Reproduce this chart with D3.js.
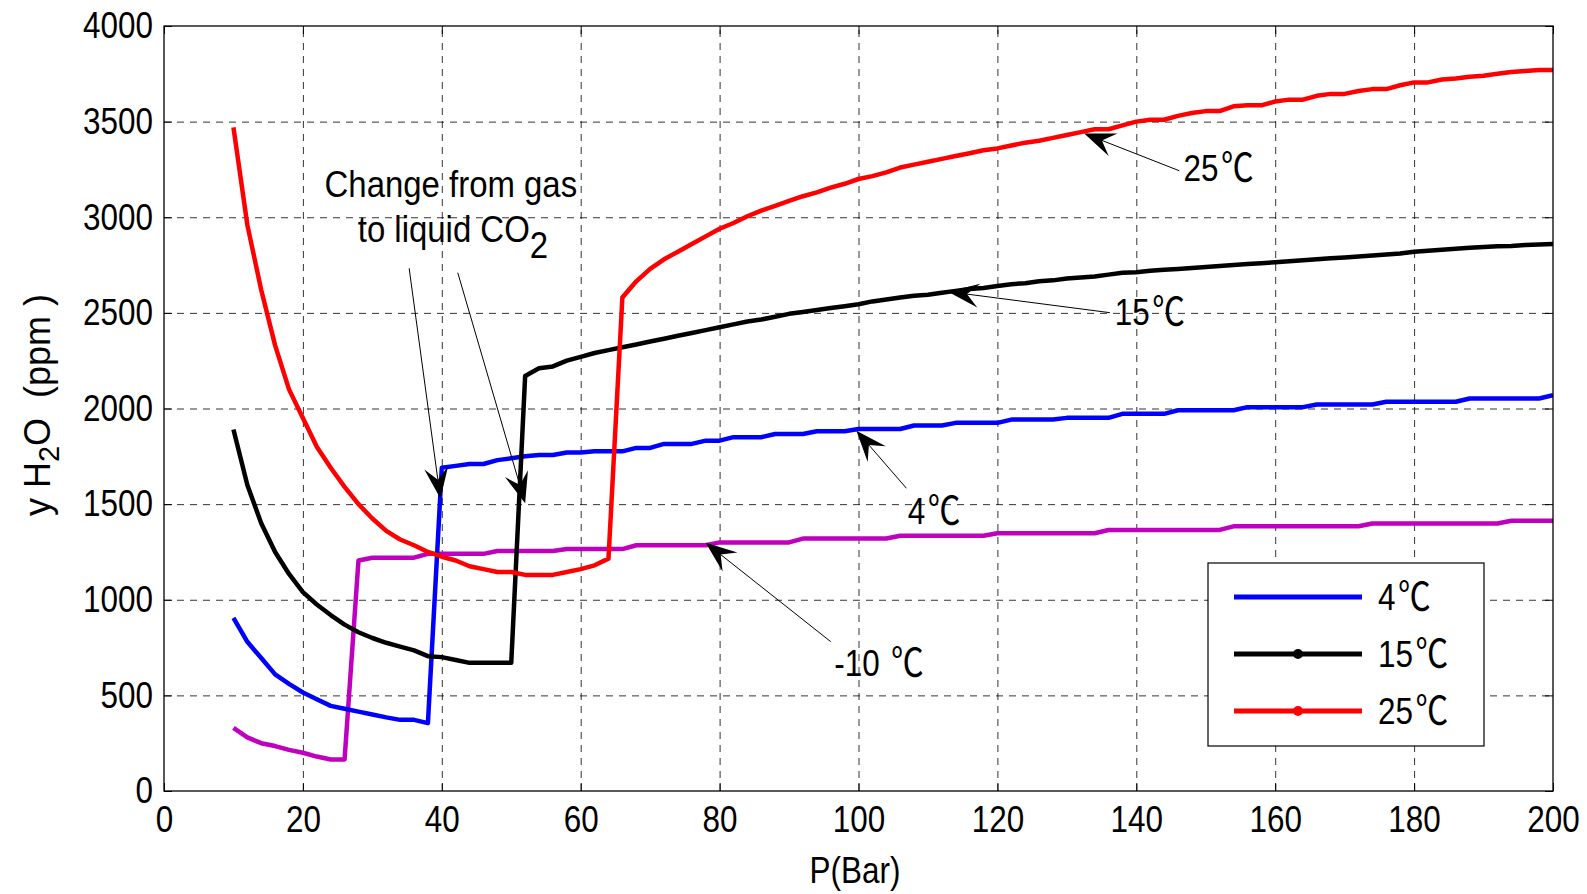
<!DOCTYPE html>
<html lang="en">
<head>
<meta charset="UTF-8" />
<title>y H2O vs P</title>
<style>
  html, body { margin: 0; padding: 0; background: #fff; overflow: hidden; }
  svg text { font-family: 'Liberation Sans', 'Noto Sans CJK SC', sans-serif; fill: #000; white-space: pre; }
  .grid line { stroke: #000; stroke-width: 0.8; stroke-dasharray: 7,6; }
  .grid path { display: none; }
</style>
</head>
<body>
<svg id="chart"></svg>
<script src="https://d3js.org/d3.v7.min.js"></script>
<script>
// pressure (bar) at which every curve was sampled
const pressure = [
  10, 12, 14, 16, 18, 20, 22, 24, 26, 28,
  30, 32, 34, 36, 38, 40, 42, 44, 46, 48,
  50, 52, 54, 56, 58, 60, 62, 64, 66, 68,
  70, 72, 74, 76, 78, 80, 82, 84, 86, 88,
  90, 92, 94, 96, 98, 100, 102, 104, 106, 108,
  110, 112, 114, 116, 118, 120, 122, 124, 126, 128,
  130, 132, 134, 136, 138, 140, 142, 144, 146, 148,
  150, 152, 154, 156, 158, 160, 162, 164, 166, 168,
  170, 172, 174, 176, 178, 180, 182, 184, 186, 188,
  190, 192, 194, 196, 198, 200
];

// y H2O (ppm)
const h2o25 = [
  3470, 2960, 2620, 2330, 2100, 1950, 1800, 1690, 1590, 1500,
  1425, 1360, 1315, 1285, 1250, 1225, 1205, 1175, 1160, 1145,
  1145, 1130, 1130, 1130, 1145, 1160, 1180, 1215, 2580, 2665,
  2730, 2780, 2820, 2860, 2900, 2940, 2970, 3005, 3035, 3060,
  3085, 3110, 3130, 3155, 3175, 3200, 3215, 3235, 3260, 3275,
  3290, 3305, 3320, 3335, 3350, 3360, 3375, 3390, 3400, 3415,
  3430, 3445, 3460, 3460, 3480, 3500, 3510, 3510, 3530, 3545,
  3555, 3555, 3580, 3585, 3585, 3605, 3615, 3615, 3635, 3645,
  3645, 3660, 3670, 3670, 3690, 3705, 3705, 3720, 3725, 3735,
  3740, 3750, 3760, 3765, 3770, 3770
];
const h2o15 = [
  1890, 1600, 1400, 1250, 1135, 1040, 975, 920, 870, 830,
  800, 775, 755, 735, 705, 700, 685, 670, 670, 670,
  670, 2170, 2210, 2220, 2250, 2270, 2290, 2305, 2320, 2335,
  2350, 2365, 2380, 2395, 2410, 2425, 2440, 2455, 2465, 2480,
  2495, 2505, 2515, 2525, 2535, 2545, 2560, 2570, 2580, 2590,
  2595, 2605, 2615, 2625, 2630, 2640, 2650, 2655, 2665, 2670,
  2680, 2685, 2690, 2700, 2710, 2712, 2720, 2725, 2730, 2735,
  2740, 2745, 2750, 2755, 2760, 2765, 2770, 2775, 2780, 2785,
  2790, 2795, 2800, 2805, 2810, 2820, 2825, 2830, 2835, 2840,
  2845, 2848, 2850, 2855, 2858, 2860
];
const h2o4 = [
  905, 780, 695, 610, 560, 515, 480, 445, 430, 415,
  400, 385, 372, 372, 355, 1690, 1700, 1710, 1710, 1730,
  1740, 1750, 1757, 1757, 1770, 1770, 1776, 1776, 1776, 1794,
  1794, 1815, 1815, 1815, 1832, 1832, 1850, 1850, 1850, 1867,
  1867, 1867, 1881, 1881, 1881, 1893, 1893, 1893, 1893, 1911,
  1911, 1911, 1925, 1925, 1925, 1925, 1942, 1942, 1942, 1942,
  1951, 1951, 1951, 1951, 1972, 1972, 1972, 1972, 1991, 1991,
  1991, 1991, 1991, 2007, 2007, 2007, 2007, 2007, 2021, 2021,
  2021, 2021, 2021, 2035, 2035, 2035, 2035, 2035, 2035, 2052,
  2052, 2052, 2052, 2052, 2052, 2069
];
const h2oMinus10 = [
  330, 280, 250, 235, 215, 200, 180, 165, 165, 1205,
  1220, 1220, 1220, 1220, 1240, 1240, 1240, 1240, 1240, 1255,
  1255, 1255, 1255, 1255, 1265, 1265, 1265, 1265, 1265, 1285,
  1285, 1285, 1285, 1285, 1285, 1300, 1300, 1300, 1300, 1300,
  1300, 1320, 1320, 1320, 1320, 1320, 1320, 1320, 1335, 1335,
  1335, 1335, 1335, 1335, 1335, 1348, 1348, 1348, 1348, 1348,
  1348, 1348, 1348, 1365, 1365, 1365, 1365, 1365, 1365, 1365,
  1365, 1365, 1384, 1384, 1384, 1384, 1384, 1384, 1384, 1384,
  1384, 1384, 1399, 1399, 1399, 1399, 1399, 1399, 1399, 1399,
  1399, 1399, 1413, 1413, 1413, 1413
];

const xTicks = [0, 20, 40, 60, 80, 100, 120, 140, 160, 180, 200];
const yTicks = [0, 500, 1000, 1500, 2000, 2500, 3000, 3500, 4000];

// drawn in this order (last on top)
const series = [
  { name: '-10 ℃', values: h2oMinus10, color: '#bf00bf' },
  { name: '4℃', values: h2o4, color: '#0000ff' },
  { name: '15℃', values: h2o15, color: '#000000' },
  { name: '25℃', values: h2o25, color: '#ff0000' }
];

const legendNames = ['4', '15', '25'];
const legendColors = ['#0000ff', '#000000', '#ff0000'];
const legendMarker = [false, true, true];

// arrows: [tail P, tail ppm, tip P, tip ppm]
const phaseArrows = [
  [35.3, 2733, 39.8, 1529],
  [42.3, 2710, 52.0, 1504]
];
const curveLabels = ['25', '15', '4', '-10 '];
const curveLabelPos = [[146.8, 3256], [136.9, 2506], [107.1, 1465], [96.5, 669]];
const curveArrows = [
  [146.2, 3243, 132.5, 3438],
  [136.2, 2501, 112.9, 2611],
  [106.9, 1583, 99.7, 1884],
  [96.0, 781, 78.0, 1298]
];

const W = 1587, H = 894;
const margin = { left: 164, top: 26, right: 34, bottom: 103 };
const w = W - margin.left - margin.right;
const h = H - margin.top - margin.bottom;
const SX = 0.85; // horizontal squeeze, the original font is a narrow one

const svg = d3.select('#chart').attr('width', W).attr('height', H);
const g = svg.append('g').attr('transform', `translate(${margin.left},${margin.top})`);

const x = d3.scaleLinear().domain([0, 200]).range([0, w]);
const y = d3.scaleLinear().domain([0, 4000]).range([h, 0]);

// narrow text placed at (tx, ty)
function ntext(parent, tx, ty, str, size, anchor, sx) {
  return parent.append('text')
    .attr('transform', `translate(${tx},${ty}) scale(${sx || SX},1)`)
    .attr('text-anchor', anchor || 'start')
    .style('font-size', size + 'px')
    .text(str);
}
// temperature label: number + degree-celsius sign
function ttext(parent, tx, ty, num, size) {
  const t = ntext(parent, tx, ty, num, size);
  t.append('tspan').attr('dx', 3).style('font-size', (size * 1.04) + 'px').text('℃');
  return t;
}

// grid
g.append('g').attr('class', 'grid').attr('transform', `translate(0,${h})`)
  .call(d3.axisBottom(x).tickValues(xTicks.slice(1, -1)).tickSize(-h).tickFormat(''));
g.append('g').attr('class', 'grid')
  .call(d3.axisLeft(y).tickValues(yTicks.slice(1, -1)).tickSize(-w).tickFormat(''));

// inner ticks on all four sides
function styleAxis(sel, labels) {
  sel.select('.domain').remove();
  sel.selectAll('.tick line').attr('stroke', '#000').attr('stroke-width', 1);
  if (!labels) { sel.selectAll('.tick text').remove(); return; }
  sel.selectAll('.tick text')
    .style('font-size', '37px')
    .each(function () {
      const tx = +this.getAttribute('x') || 0;
      d3.select(this).attr('x', 0).attr('transform', `translate(${tx},0) scale(${SX},1)`);
    });
}
const fmt = d3.format('d');
g.append('g').attr('transform', `translate(0,${h})`)
  .call(d3.axisBottom(x).tickValues(xTicks).tickFormat(fmt).tickSize(-8).tickPadding(15))
  .call(s => styleAxis(s, true));
g.append('g')
  .call(d3.axisTop(x).tickValues(xTicks).tickSize(-8))
  .call(s => styleAxis(s, false));
g.append('g')
  .call(d3.axisLeft(y).tickValues(yTicks).tickFormat(fmt).tickSize(-8).tickPadding(11))
  .call(s => styleAxis(s, true));
g.append('g').attr('transform', `translate(${w},0)`)
  .call(d3.axisRight(y).tickValues(yTicks).tickSize(-8))
  .call(s => styleAxis(s, false));
g.selectAll('.tick text').attr('font-family', null);

g.append('clipPath').attr('id', 'plot-clip')
  .append('rect').attr('width', w).attr('height', h);

const line = d3.line()
  .x((d, i) => x(pressure[i]))
  .y(d => y(d));

g.append('g').attr('clip-path', 'url(#plot-clip)')
  .selectAll('path')
  .data(series)
  .join('path')
  .attr('d', d => line(d.values))
  .attr('fill', 'none')
  .attr('stroke', d => d.color)
  .attr('stroke-width', 4.5)
  .attr('stroke-linejoin', 'round');

// box
g.append('rect').attr('width', w).attr('height', h)
  .attr('fill', 'none').attr('stroke', '#000').attr('stroke-width', 1.3);

// annotation arrows
function arrow(a) {
  const x0 = x(a[0]), y0 = y(a[1]), x1 = x(a[2]), y1 = y(a[3]);
  const ang = Math.atan2(y1 - y0, x1 - x0);
  const ux = Math.cos(ang), uy = Math.sin(ang);
  const L = 31, HW = 12, N = 19;
  const bx = x1 - ux * L, by = y1 - uy * L;
  const nx = x1 - ux * N, ny = y1 - uy * N;
  g.append('line')
    .attr('x1', x0).attr('y1', y0).attr('x2', nx).attr('y2', ny)
    .attr('stroke', '#000').attr('stroke-width', 1);
  const pts = [
    [x1, y1],
    [bx - uy * HW, by + ux * HW],
    [nx, ny],
    [bx + uy * HW, by - ux * HW]
  ];
  g.append('polygon').attr('points', pts.map(p => p.join(',')).join(' ')).attr('fill', '#000');
}
phaseArrows.forEach(arrow);
curveArrows.forEach(arrow);

curveLabels.forEach((t, i) => {
  ttext(g, x(curveLabelPos[i][0]), y(curveLabelPos[i][1]) + 13, t, 37);
});

// "Change from gas / to liquid CO2"
ntext(g, x(41.3), y(3104), 'Change from gas', 37, 'middle', 0.89);
const l2 = ntext(g, x(41.6), y(2872), '', 37, 'middle', 0.89);
l2.append('tspan').text('to liquid CO');
l2.append('tspan').attr('dy', 16).text('2');

// legend
const lg = svg.append('g').attr('transform', 'translate(1208,563)');
lg.append('rect').attr('width', 276).attr('height', 183)
  .attr('fill', '#fff').attr('stroke', '#000').attr('stroke-width', 1.2);
legendNames.forEach((n, i) => {
  const ly = 34 + i * 57;
  lg.append('line').attr('x1', 26).attr('x2', 154).attr('y1', ly).attr('y2', ly)
    .attr('stroke', legendColors[i]).attr('stroke-width', 5);
  if (legendMarker[i]) {
    lg.append('circle').attr('cx', 90).attr('cy', ly).attr('r', 5).attr('fill', legendColors[i]);
  }
  ttext(lg, 170, ly + 13, n, 37);
});

// axis labels
ntext(svg, 855, 883, 'P(Bar)', 37, 'middle');

const yl = svg.append('text')
  .attr('transform', 'translate(50,405) rotate(-90)')
  .attr('text-anchor', 'middle')
  .style('font-size', '36px');
yl.append('tspan').text('y H');
yl.append('tspan').attr('dy', 9).style('font-size', '29px').text('2');
yl.append('tspan').attr('dy', -9).text('O  (ppm )');
</script>
</body>
</html>
